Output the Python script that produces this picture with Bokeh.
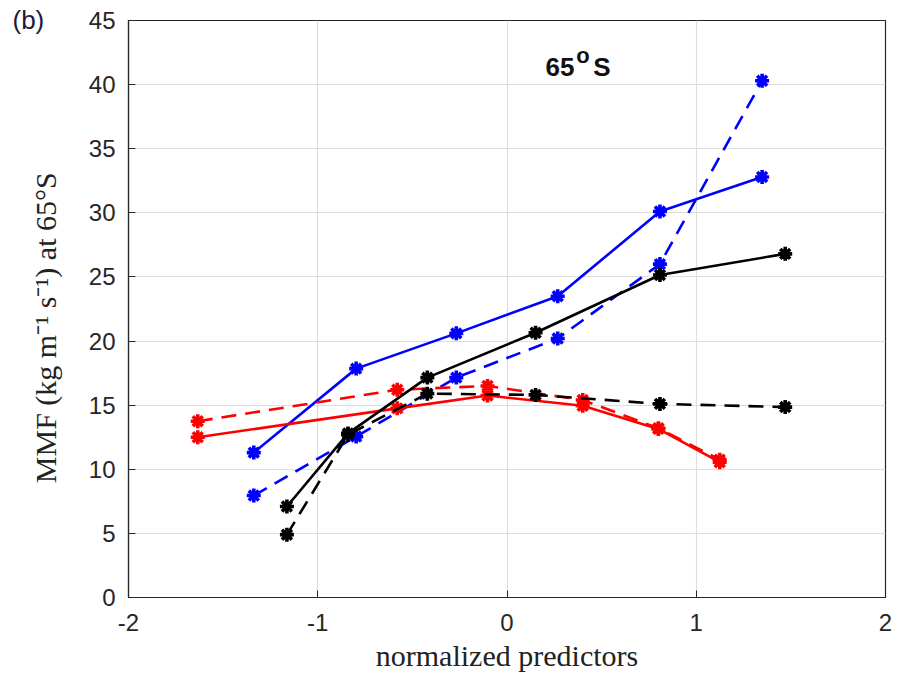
from bokeh.plotting import figure
from bokeh.models import Label, FixedTicker
from bokeh.embed import file_html
from bokeh.resources import INLINE

# Predictor values (normalized) and MMF at 65°S for each predictor set
x_blue = [-1.338, -0.797, -0.268, 0.268, 0.808, 1.348]
y_blue_solid = [11.3, 17.85, 20.6, 23.5, 30.1, 32.8]
y_blue_dash = [7.95, 12.55, 17.15, 20.2, 26.0, 40.3]

x_black = [-1.163, -0.840, -0.421, 0.151, 0.808, 1.470]
y_black_solid = [7.1, 12.8, 17.15, 20.65, 25.15, 26.8]
y_black_dash = [4.9, 12.7, 15.9, 15.8, 15.1, 14.85]

x_red = [-1.634, -0.580, -0.103, 0.400, 0.800, 1.124]
y_red_solid = [12.5, 14.75, 15.75, 14.95, 13.15, 10.55]
y_red_dash = [13.75, 16.2, 16.5, 15.4, 13.2, 10.75]

x_ticks = [-2, -1, 0, 1, 2]
x_tick_labels = ["-2", "-1", "0", "1", "2"]
y_ticks = [0, 5, 10, 15, 20, 25, 30, 35, 40, 45]

AX = "#262626"
TICK_FONT = "Liberation Sans"
LABEL_FONT = "Liberation Serif"
NBSP = "\u00a0"

p = figure(width=903, height=675, x_range=(-2, 2), y_range=(0, 45),
           output_backend="svg", toolbar_location=None,
           min_border_left=128, min_border_right=18,
           min_border_top=20, min_border_bottom=78)

# Panel tag, set as a left-aligned title pushed into the left margin;
# the negative standoff lowers it level with the top tick label while
# the top border stays at min_border_top
p.title.text = "(b)"
p.title.align = "left"
p.title.offset = -116
p.title.standoff = -28
p.title.text_font = TICK_FONT
p.title.text_font_style = "normal"
p.title.text_font_size = "26px"
p.title.text_color = "#1a1a40"

p.xaxis.ticker = FixedTicker(ticks=x_ticks)
p.xaxis.major_label_overrides = {t: s for t, s in zip(x_ticks, x_tick_labels)}
p.yaxis.ticker = FixedTicker(ticks=y_ticks)
p.xaxis.axis_label = "normalized predictors"
# trailing no-break spaces nudge the rotated label slightly downward
p.yaxis.axis_label = "MMF (kg m\u207b\u00b9 s\u207b\u00b9) at 65\u00b0S" + NBSP * 5

for ax in (p.xaxis, p.yaxis):
    ax.axis_line_color = AX
    ax.axis_line_width = 1.2
    ax.major_tick_line_color = AX
    ax.major_tick_in = 7
    ax.major_tick_out = 0
    ax.minor_tick_line_color = None
    ax.major_label_text_font = TICK_FONT
    ax.major_label_text_font_size = "24px"
    ax.major_label_text_color = AX
    ax.axis_label_text_font = LABEL_FONT
    ax.axis_label_text_font_style = "normal"
    ax.axis_label_text_font_size = "30px"
    ax.axis_label_text_color = "#222222"

p.xaxis.major_label_standoff = 16
p.yaxis.major_label_standoff = 13
p.xaxis.axis_label_standoff = 5
p.yaxis.axis_label_standoff = 24

p.outline_line_color = AX
p.outline_line_width = 1.2
p.outline_line_alpha = 1.0

p.xgrid.grid_line_color = "#dedede"
p.ygrid.grid_line_color = "#dedede"
p.xgrid.grid_line_width = 1.2
p.ygrid.grid_line_width = 1.2
p.background_fill_color = "white"
p.border_fill_color = "white"

DASH = "15 9"
LW = 2.6


def series(xs, ys, color, dashed):
    p.line(xs, ys, line_color=color, line_width=LW,
           line_dash=DASH if dashed else "solid")
    p.scatter(xs, ys, marker="asterisk", size=14, line_color=color,
              line_width=3.6)


series(x_blue, y_blue_solid, "#0000ff", False)
series(x_blue, y_blue_dash, "#0000ff", True)
series(x_red, y_red_solid, "#ff0000", False)
series(x_red, y_red_dash, "#ff0000", True)
series(x_black, y_black_solid, "#000000", False)
series(x_black, y_black_dash, "#000000", True)

# Panel heading "65 °S" in bold, with a raised "o"
title_style = dict(text_font=TICK_FONT, text_font_style="bold",
                   text_color="#111111", text_baseline="alphabetic")
p.add_layout(Label(x=0.204, y=41.34, text="65", text_font_size="26px",
                   **title_style))
p.add_layout(Label(x=0.366, y=42.3, text="o", text_font_size="22px",
                   **title_style))
p.add_layout(Label(x=0.456, y=41.34, text="S", text_font_size="26px",
                   **title_style))

open("out.html", "w").write(file_html(p, INLINE))
